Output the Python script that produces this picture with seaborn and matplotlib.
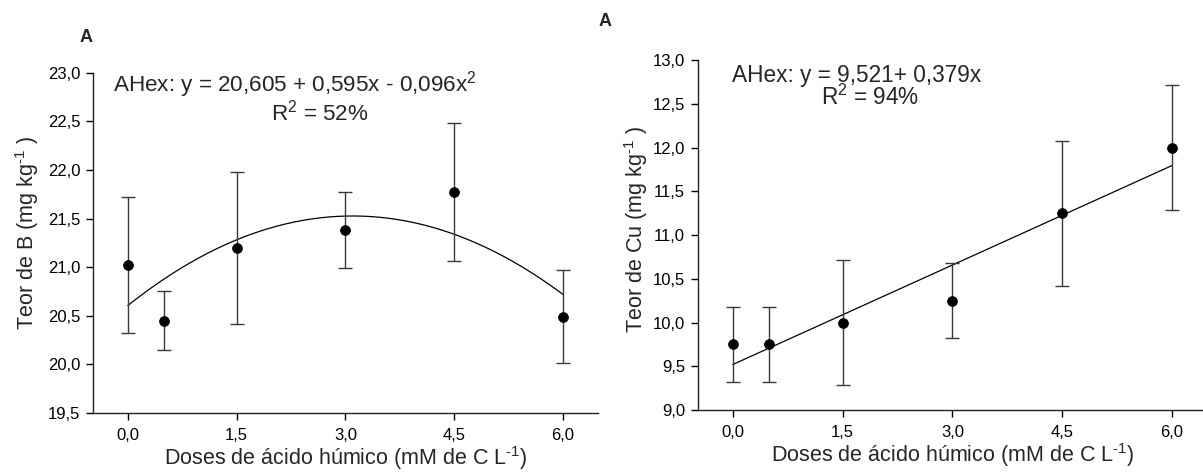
import numpy as np
import pandas as pd
import matplotlib
matplotlib.use("Agg")
import matplotlib.pyplot as plt
from matplotlib.ticker import FuncFormatter, FixedLocator
import seaborn as sns

# ---- data ----
doses = [0.0, 0.5, 1.5, 3.0, 4.5, 6.0]
b_mean = [21.02, 20.45, 21.20, 21.38, 21.77, 20.49]
b_err = [0.70, 0.30, 0.78, 0.39, 0.71, 0.48]
cu_mean = [9.75, 9.75, 10.00, 10.25, 11.25, 12.00]
cu_err = [0.43, 0.43, 0.71, 0.43, 0.83, 0.71]
# fitted regression coefficients printed on the chart (highest power first)
b_coef = [-0.096, 0.595, 20.605]
cu_coef = [0.379, 9.521]
x_ticks = [0.0, 1.5, 3.0, 4.5, 6.0]

sns.set_style("white")
plt.rcParams["font.family"] = ["Liberation Sans", "DejaVu Sans"]
plt.rcParams["mathtext.fontset"] = "custom"
plt.rcParams["mathtext.rm"] = "Liberation Sans"
plt.rcParams["mathtext.it"] = "Liberation Sans:italic"
plt.rcParams["mathtext.default"] = "regular"
plt.rcParams["axes.unicode_minus"] = False

W, H = 1203, 473
fig = plt.figure(figsize=(W / 100, H / 100), dpi=100)
ax1 = fig.add_axes([0.0773, 0.127, 0.4197, 0.719])
ax2 = fig.add_axes([0.580, 0.133, 0.4235, 0.740])

comma = FuncFormatter(lambda v, p: f"{v:.1f}".replace(".", ","))
XLABEL = "Doses de ácido húmico (mM de C L$^{\\text{-1}}$)"

def panel(ax, mean, err, coef, ylim, ylabel, ylab_xy):
    df = pd.DataFrame({"x": doses, "y": mean})
    xs = np.linspace(0, 6, 200)
    fit = pd.DataFrame({"x": xs, "y": np.polyval(coef, xs)})
    sns.lineplot(data=fit, x="x", y="y", ax=ax, color="black", lw=0.9)
    ax.errorbar(doses, mean, yerr=err, fmt="none", ecolor="#3a3a3a",
                elinewidth=1.0, capsize=5, capthick=1.0)
    sns.scatterplot(data=df, x="x", y="y", ax=ax, color="black", s=50,
                    edgecolor="black", zorder=5)
    ax.set_xlim(-0.48, 6.48)
    ax.set_ylim(*ylim)
    ax.xaxis.set_major_locator(FixedLocator(x_ticks))
    ax.yaxis.set_major_locator(FixedLocator(np.arange(ylim[0], ylim[1] + 0.01, 0.5)))
    ax.xaxis.set_major_formatter(comma)
    ax.yaxis.set_major_formatter(comma)
    for s in ["top", "right"]:
        ax.spines[s].set_visible(False)
    for s in ["left", "bottom"]:
        ax.spines[s].set_color("#222222")
        ax.spines[s].set_linewidth(1.0)
    ax.tick_params(axis="both", direction="out", length=5, width=1, colors="black",
                   labelsize=12, left=True, bottom=True, pad=4)
    ax.tick_params(axis="x", pad=6)
    ax.set_xlabel(XLABEL, fontsize=15.5, labelpad=0.5)
    ax.set_ylabel(ylabel, fontsize=15.5)
    ax.yaxis.set_label_coords(*ylab_xy)

panel(ax1, b_mean, b_err, b_coef, (19.5, 23.0), "Teor de B (mg kg$^{\\text{-1}}$ )", (-0.102, 0.53))
panel(ax2, cu_mean, cu_err, cu_coef, (9.0, 13.0), "Teor de Cu (mg kg$^{\\text{-1}}$ )", (-0.093, 0.517))

fig.text(86 / W, 1 - 37 / H, "A", fontsize=13, fontweight="bold", va="center", ha="center")
fig.text(605 / W, 1 - 21 / H, "A", fontsize=13, fontweight="bold", va="center", ha="center")

fig.text(113 / W, 1 - 92 / H, "AHex: y = 20,605 + 0,595x - 0,096x$^{2}$",
         fontsize=16.2, va="baseline", ha="left")
fig.text(320 / W, 1 - 120 / H, "R$^{2}$ = 52%", fontsize=16.2, va="baseline", ha="center")
fig.text(732 / W, 1 - 82 / H, "AHex: y = 9,521+ 0,379x", fontsize=16.3, va="baseline", ha="left")
fig.text(870 / W, 1 - 105 / H, "R$^{2}$ = 94%", fontsize=16.3, va="baseline", ha="center")

fig.savefig("out.png", dpi=100)
